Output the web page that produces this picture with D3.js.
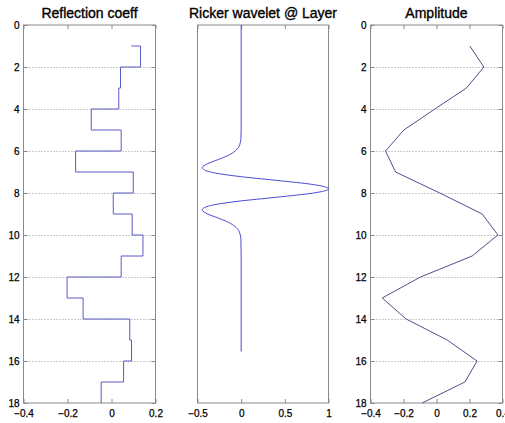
<!DOCTYPE html>
<html>
<head>
<meta charset="utf-8">
<script src="https://cdn.jsdelivr.net/npm/d3@7"></script>
<style>
  body { margin: 0; background: #fff; }
  svg { display: block; font-family: "Liberation Sans", Arial, sans-serif; }
</style>
</head>
<body>
<svg width="505" height="423"></svg>
<script>
'use strict';

// reflection coefficients, one per layer boundary (stairs)
const layerDepth = [1, 2, 3, 4, 5, 6, 7, 8, 9, 10, 11, 12, 13, 14, 15, 16, 17, 18];
const reflCoeff = [0.09, 0.132, 0.041, 0.033, -0.092, 0.044, -0.163, 0.099, 0.008,
                   0.094, 0.143, 0.044, -0.202, -0.129, 0.083, 0.091, 0.055, -0.047];

// ricker wavelet
const waveDepth = [0, 4, 5, 5.4, 5.6, 5.8, 6.0, 6.2, 6.4, 6.6, 6.8, 7.0, 7.2, 7.4, 7.6, 7.7,
                   7.8, 7.9, 8.0, 8.2, 8.4, 8.6, 8.8, 9.0, 9.2, 9.4, 9.6, 9.8, 10.0, 10.2, 11, 15.55];
const waveAmp = [0, 0, 0, -0.003, -0.01, -0.027, -0.068, -0.144, -0.258, -0.383, -0.446, -0.352,
                 -0.047, 0.409, 0.829, 0.955, 1, 0.955, 0.829, 0.409, -0.047, -0.352, -0.446,
                 -0.383, -0.258, -0.144, -0.068, -0.027, -0.01, -0.003, 0, 0];

// synthetic amplitude
const amplitude = [0.202, 0.287, 0.182, -0.01, -0.198, -0.309, -0.248, 0.02, 0.277,
                   0.372, 0.216, -0.097, -0.329, -0.184, 0.065, 0.246, 0.172, -0.087];

const depthTicks = [0, 2, 4, 6, 8, 10, 12, 14, 16, 18];
const gridTicks = [2, 4, 6, 8, 10, 12, 14, 16];

const svg = d3.select('svg');
const plotTop = 25, plotBottom = 403;
const tickLen = 4;
const frameColor = '#8a8a8a';

const y = d3.scaleLinear().domain([0, 18]).range([plotTop, plotBottom]);

function panel(opts) {
  const x = d3.scaleLinear().domain(opts.domain).range([opts.left, opts.right]);
  const g = svg.append('g');

  if (opts.grid) {
    g.selectAll('line.grid').data(gridTicks).join('line')
      .attr('class', 'grid')
      .attr('x1', opts.left).attr('x2', opts.right)
      .attr('y1', d => y(d) + 0.5).attr('y2', d => y(d) + 0.5)
      .attr('stroke', '#999').attr('stroke-dasharray', '1,2');
  }

  const bx = g.append('g').attr('transform', `translate(0,${plotBottom})`)
    .call(d3.axisBottom(x).tickValues(opts.xticks).tickSize(-tickLen).tickPadding(7)
      .tickFormat(d3.format('')));
  const tx = g.append('g').attr('transform', `translate(0,${plotTop})`)
    .call(d3.axisTop(x).tickValues(opts.xticks).tickSize(-tickLen).tickFormat(''));
  [bx, tx].forEach(a => a.select('.domain').remove());

  if (opts.yaxis) {
    const ly = g.append('g').attr('transform', `translate(${opts.left},0)`)
      .call(d3.axisLeft(y).tickValues(depthTicks).tickSize(-tickLen).tickPadding(4));
    const ry = g.append('g').attr('transform', `translate(${opts.right},0)`)
      .call(d3.axisRight(y).tickValues(depthTicks).tickSize(-tickLen).tickFormat(''));
    [ly, ry].forEach(a => a.select('.domain').remove());
  }

  g.selectAll('.tick line').attr('stroke', frameColor);
  // labels a bit heavier, like the original renderer
  g.selectAll('.tick text').attr('fill', '#000').attr('font-size', 10)
    .attr('font-family', '"Liberation Sans", Arial, sans-serif')
    .attr('stroke', '#000').attr('stroke-width', 0.25);

  g.append('rect')
    .attr('x', opts.left).attr('y', plotTop)
    .attr('width', opts.right - opts.left).attr('height', plotBottom - plotTop)
    .attr('fill', 'none').attr('stroke', frameColor);

  g.append('text')
    .attr('x', (opts.left + opts.right) / 2).attr('y', 18)
    .attr('text-anchor', 'middle').attr('font-size', 14).attr('fill', '#000')
    .attr('stroke', '#000').attr('stroke-width', 0.35)
    .text(opts.title);

  return { g, x };
}

// left: reflection coefficients
const p1 = panel({ left: 23.5, right: 155.5, domain: [-0.4, 0.2], xticks: [-0.4, -0.2, 0, 0.2],
  grid: true, yaxis: true, title: 'Reflection coeff' });
p1.g.append('path')
  .datum(layerDepth.map((d, i) => [reflCoeff[i], d]))
  .attr('fill', 'none').attr('stroke', '#5a5ac8').attr('stroke-width', 1)
  .attr('d', d3.line().x(d => p1.x(d[0])).y(d => y(d[1])).curve(d3.curveStepAfter));

// middle: ricker wavelet
const p2 = panel({ left: 197.5, right: 328.5, domain: [-0.5, 1], xticks: [-0.5, 0, 0.5, 1],
  grid: false, yaxis: false, title: 'Ricker wavelet @ Layer' });
p2.g.append('path')
  .datum(waveDepth.map((d, i) => [waveAmp[i], d]))
  .attr('fill', 'none').attr('stroke', '#4a4ad6').attr('stroke-width', 1)
  .attr('d', d3.line().x(d => p2.x(d[0])).y(d => y(d[1])).curve(d3.curveMonotoneY));

// right: amplitude
const p3 = panel({ left: 370.5, right: 502.5, domain: [-0.4, 0.4], xticks: [-0.4, -0.2, 0, 0.2, 0.4],
  grid: true, yaxis: true, title: 'Amplitude' });
p3.g.append('path')
  .datum(layerDepth.map((d, i) => [amplitude[i], d]))
  .attr('fill', 'none').attr('stroke', '#50508c').attr('stroke-width', 1)
  .attr('d', d3.line().x(d => p3.x(d[0])).y(d => y(d[1])));
</script>
</body>
</html>
